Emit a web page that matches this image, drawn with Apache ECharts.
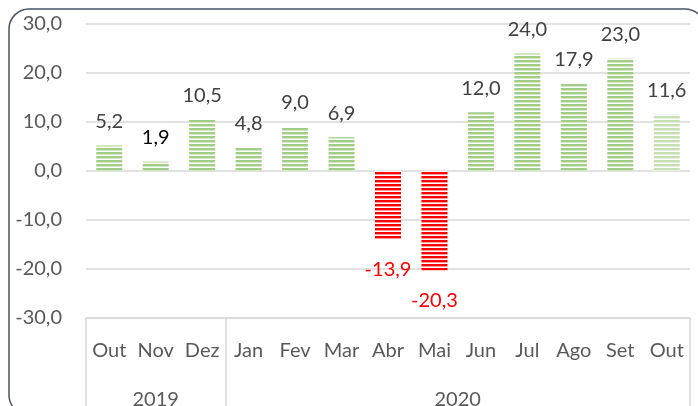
<!DOCTYPE html>
<html>
<head>
<meta charset="utf-8">
<script src="https://cdn.jsdelivr.net/npm/echarts@6/dist/echarts.min.js"></script>
<style>
html,body{margin:0;padding:0;background:#fff;}
#c{width:698px;height:406px;}
</style>
</head>
<body>
<div id="c"></div>
<script>
const months = ['Out','Nov','Dez','Jan','Fev','Mar','Abr','Mai','Jun','Jul','Ago','Set','Out'];
const values = [5.2, 1.9, 10.5, 4.8, 9.0, 6.9, -13.9, -20.3, 12.0, 24.0, 17.9, 23.0, 11.6];
const years = ['2019', '2020'];
const yearSpans = [3, 10];
const yMin = -30, yMax = 30, yStep = 10;

function makePattern(main, mid) {
  const c = document.createElement('canvas');
  c.width = 4; c.height = 4;
  const g = c.getContext('2d');
  g.fillStyle = '#ffffff'; g.fillRect(0, 0, 4, 4);
  g.fillStyle = main; g.fillRect(0, 0, 4, 2);
  g.fillStyle = mid; g.fillRect(0, 2, 4, 1);
  return { image: c, repeat: 'repeat' };
}
const greenPat = makePattern('#a2cd86', '#d3e8c5');
const lightGreenPat = makePattern('#c6e0b3', '#e6f1de');
const redPat = makePattern('#ff0000', '#ff9a9a');

const fmt = v => Number(v).toFixed(1).replace('.', ',');

// year boundaries & centers computed from spans
const bounds = [0];
yearSpans.forEach(s => bounds.push(bounds[bounds.length - 1] + s));
const centers = yearSpans.map((s, i) => bounds[i] + s / 2);

const FONT = 'Lato';
const FS = 20;
const barData = values.map((v, i) => ({
  value: v,
  itemStyle: { color: v < 0 ? redPat : (i === values.length - 1 ? lightGreenPat : greenPat) },
  label: {
    position: v < 0 ? 'bottom' : 'top',
    distance: v < 0 ? 20 : 14,
    color: v < 0 ? '#ff0000' : (i === 1 ? '#000000' : '#404040')
  }
}));

const chart = echarts.init(document.getElementById('c'), null, { renderer: 'canvas' });
chart.setOption({
  animation: false,
  textStyle: { fontFamily: FONT },
  graphic: [{
    type: 'rect',
    shape: { x: 9, y: 9, width: 696, height: 406, r: 20 },
    style: { fill: 'none', stroke: '#44546a', lineWidth: 1.5 },
    silent: true, z: 100
  }],
  grid: { left: 86, right: 8, top: 24, bottom: 88, containLabel: false, outerBoundsMode: 'none' },
  xAxis: [{
    type: 'category',
    data: months,
    position: 'bottom',
    axisLine: { show: true, onZero: false, lineStyle: { color: '#d9d9d9', width: 1.5 } },
    axisTick: { show: false },
    axisLabel: { color: '#595959', fontSize: FS, fontFamily: FONT, margin: 23, interval: 0 },
    splitLine: { show: false }
  }, {
    type: 'value',
    min: 0, max: months.length,
    position: 'bottom',
    axisLine: { show: false, onZero: false },
    splitLine: { show: false },
    axisTick: { show: true, customValues: bounds, length: 95, lineStyle: { color: '#d9d9d9', width: 1.5 } },
    axisLabel: {
      show: true, customValues: centers, margin: 72,
      color: '#595959', fontSize: FS, fontFamily: FONT,
      formatter: v => { const k = centers.indexOf(v); return k >= 0 ? years[k] : ''; }
    }
  }],
  yAxis: {
    type: 'value',
    min: yMin, max: yMax, interval: yStep,
    axisLine: { show: false },
    axisTick: { show: false },
    axisLabel: { color: '#595959', fontSize: FS, fontFamily: FONT, margin: 24, formatter: fmt },
    splitLine: { lineStyle: { color: '#d9d9d9', width: 1.5 } }
  },
  series: [{
    type: 'bar',
    xAxisIndex: 0,
    data: barData,
    barWidth: 26,
    label: { show: true, fontSize: FS, fontFamily: FONT, formatter: p => fmt(p.value) }
  }]
});
</script>
</body>
</html>
